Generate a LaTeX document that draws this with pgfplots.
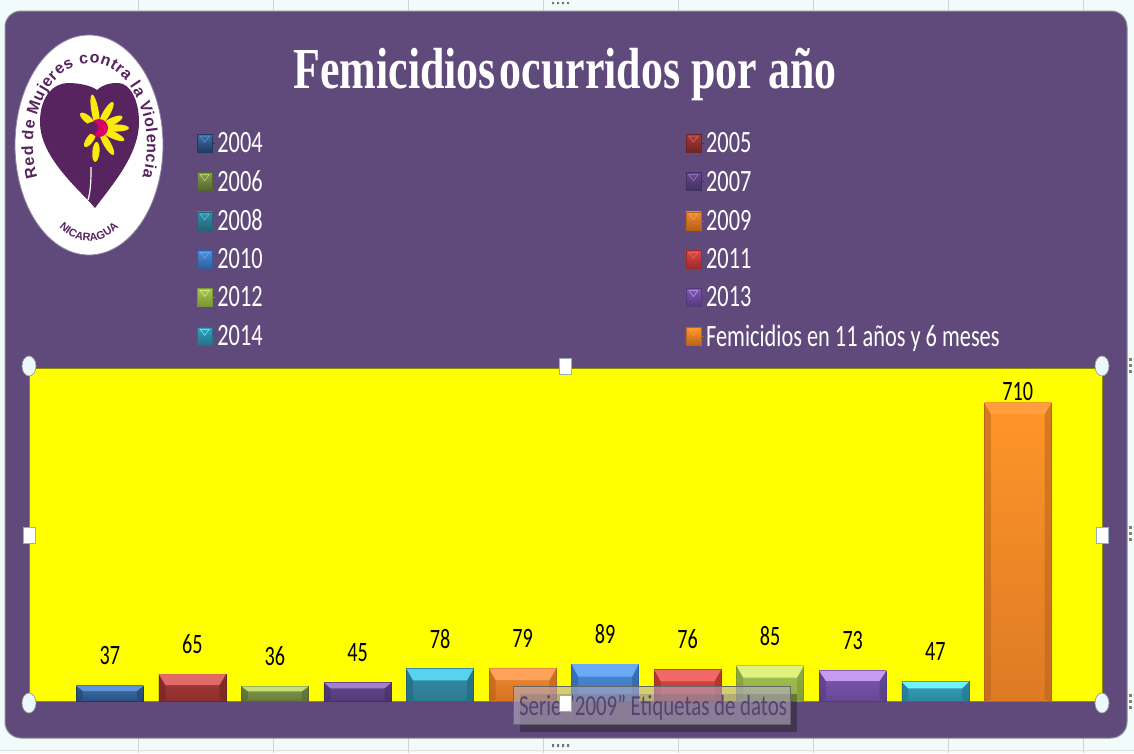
\documentclass[border=0pt]{standalone}
\usepackage{fontspec}
\usepackage{pgfplots}
\pgfplotsset{compat=1.18}
\usetikzlibrary{decorations.text,shadows}
\setmainfont[FakeStretch=0.72]{Carlito}
\newfontfamily\titlefont[FakeStretch=0.757]{Liberation Serif}
\newfontfamily\logofont{Liberation Sans}
\definecolor{plum}{HTML}{604A7B}
\definecolor{heart}{HTML}{57245F}
\definecolor{pagebg}{HTML}{F2FBFB}
\definecolor{yel}{RGB}{255,255,0}
\definecolor{flow}{RGB}{250,235,10}
\definecolor{mag}{RGB}{215,0,100}
\newcommand\dc[1]{\definecolor{#1}{HTML}{#1}}
\dc{3F6FA8}\dc{28507F}\dc{1F3A5F}\dc{A83A38}\dc{8C2F2D}\dc{6E2423}\dc{839B4E}\dc{667A38}\dc{55662D}
\dc{64478F}\dc{513A75}\dc{423060}\dc{348FA8}\dc{2B7A91}\dc{236578}\dc{EE8A38}\dc{D5711F}\dc{B85F18}
\dc{4A8CDC}\dc{3B74BC}\dc{2E5F9C}\dc{D84A48}\dc{C03533}\dc{9E2A28}\dc{A5C653}\dc{8EAB42}\dc{7A9436}
\dc{7D58B2}\dc{664895}\dc{533A7C}\dc{34A0BC}\dc{2B889F}\dc{237186}\dc{FF9628}\dc{DD7A25}\dc{B8641C}
\dc{5F94DC}\dc{24426A}\dc{E06A68}\dc{C5DE7A}\dc{A47FD0}\dc{55D3EF}\dc{FFA35A}\dc{6AAAF5}\dc{F06868}
\dc{DFF27F}\dc{C79CF0}\dc{70F5FF}\dc{FF9F40}
\newcommand\bev[5]{%
 \pgfmathsetmacro\xa{#1-0.406}\pgfmathsetmacro\xb{#1+0.406}%
 \pgfmathsetmacro\xc{#1-0.326}\pgfmathsetmacro\xd{#1+0.326}%
 \pgfmathsetmacro\yb{#2-#3}%
 \addplot[fill=#5,draw=none,forget plot,opacity=.55] coordinates {(\xa,#2)(\xc,\yb)(\xc,5)(\xa,0)} --cycle;
 \addplot[fill=#5,draw=none,forget plot,opacity=.55] coordinates {(\xb,#2)(\xd,\yb)(\xd,5)(\xb,0)} --cycle;
 \addplot[fill=#4,draw=none,forget plot] coordinates {(\xa,#2)(\xb,#2)(\xd,\yb)(\xc,\yb)} --cycle;
}
\newcommand\legbox[3]{%
 \path (0pt,0pt) -- (18pt,0pt);
 \shade[top color=#2,bottom color=#3] (0pt,-9pt) rectangle (15pt,9pt);
 \fill[#1] (3pt,7pt) -- (12pt,7pt) -- (7.5pt,1pt) -- cycle;
}
\pgfplotsset{
 bs/.style n args={4}{ybar,bar shift=0pt,bar width=67pt,draw=#3,line width=.5pt,
   shade,top color=#1,bottom color=#2,
   legend image code/.code={\legbox{#4}{#1}{#3}},
   nodes near coords,point meta=y,
   nodes near coords style={anchor=center,yshift=30pt,text=black,font=\fontsize{28}{30}\selectfont,
     /pgf/number format/assume math mode=true}},
}
\begin{document}
\begin{tikzpicture}[x=1pt,y=-1pt]
\useasboundingbox (0,0) rectangle (1134,753);
\clip (0,0) rectangle (1134,753);
\fill[pagebg] (0,0) rectangle (1134,753);
\foreach \gx in {138,273,408,543,678,813,948,1083}{
  \draw[black!18,line width=.6pt] (\gx,0) -- (\gx,10);
  \draw[black!18,line width=.6pt] (\gx,738) -- (\gx,753);}
\draw[black!12,line width=.6pt] (0,750) -- (1134,750);
\fill[black!55] (552,2) rectangle (554,4) (557,2) rectangle (559,4) (562,2) rectangle (564,4) (567,2) rectangle (569,4);
\fill[black!55] (552,744) rectangle (554,747) (557,744) rectangle (559,747) (562,744) rectangle (564,747) (567,744) rectangle (569,747);
\foreach \hy in {358,364,370,526,532,538,694,700,706}{\fill[black!50] (1129,\hy) rectangle (1132,\hy+3);}
\filldraw[fill=plum,draw=black!45,line width=1pt,rounded corners=16pt] (5,11) rectangle (1127,738);
% logo
\fill[white] (89,145) ellipse [x radius=74pt,y radius=110pt];
\draw[plum!70!white,line width=.8pt] (89,145) ellipse [x radius=74pt,y radius=110pt];
\path[decorate,decoration={text along path,text align={fit to path},
  text={|\logofont\bfseries\fontsize{16}{16}\selectfont\color{heart}|Red de Mujeres contra la Violencia}}]
  (90,145) ++(203:57pt and 82pt) arc [start angle=203,end angle=-23,x radius=57pt,y radius=82pt];
\path[decorate,decoration={text along path,text align=center,
  text={|\logofont\bfseries\fontsize{11}{11}\selectfont\color{heart}|NICARAGUA}}]
  (89,145) ++(222:58pt and 96pt) arc [start angle=222,end angle=318,x radius=58pt,y radius=96pt];
\fill[heart] (95,208) .. controls (80,190) and (40,158) .. (40,122)
  .. controls (40,96) and (54,83) .. (68,83) .. controls (80,83) and (92,86) .. (97,90)
  .. controls (104,84) and (110,83) .. (118,83) .. controls (130,83) and (139,100) .. (139,122)
  .. controls (139,155) and (112,185) .. (95,208) -- cycle;
\draw[white,line width=1.2pt] (88,200) .. controls (91,190) and (91,178) .. (91,167);
\foreach \ang/\d/\len in {100/17/34,60/17/26,25/16/22,0/18/26,-25/16/26,-60/18/26,-95/24/20,-125/14/18,140/14/18}{
  \fill[flow,rotate around={\ang:(98,128)}] (98+\d,128) ellipse [x radius=\len/2*1pt,y radius=3.6pt];}
\fill[mag] (99,128) circle [radius=9pt];
\fill[heart] (92,128) circle [radius=6pt];
% plot
\begin{axis}[
  at={(29pt,-701.5pt)},anchor=south west,scale only axis,width=1073pt,height=333.5pt,
  xmin=-0.98,xmax=12.02,ymin=0,ymax=793,xtick=\empty,ytick=\empty,
  axis background/.style={fill=yel},
  axis line style={draw=black!45!yel,line width=1pt},
  legend columns=2,
  legend style={at={(0.1565,1.7125)},anchor=north west,draw=none,fill=none,
    text=white,font=\fontsize{31}{32}\selectfont,row sep=12.5pt,
    /tikz/every even column/.append style={column sep=421pt},
    inner sep=0pt,outer sep=0pt},
  legend cell align=left,
]
\addplot[bs={3F6FA8}{28507F}{1F3A5F}{5F94DC}] coordinates {(0,37)}; \addlegendentry{2004}
\addplot[bs={A83A38}{8C2F2D}{6E2423}{E06A68}] coordinates {(1,65)}; \addlegendentry{2005}
\addplot[bs={839B4E}{667A38}{55662D}{C5DE7A}] coordinates {(2,36)}; \addlegendentry{2006}
\addplot[bs={64478F}{513A75}{423060}{A47FD0}] coordinates {(3,45)}; \addlegendentry{2007}
\addplot[bs={348FA8}{2B7A91}{236578}{55D3EF}] coordinates {(4,78)}; \addlegendentry{2008}
\addplot[bs={EE8A38}{D5711F}{B85F18}{FFA35A}] coordinates {(5,79)}; \addlegendentry{2009}
\addplot[bs={4A8CDC}{3B74BC}{2E5F9C}{6AAAF5}] coordinates {(6,89)}; \addlegendentry{2010}
\addplot[bs={D84A48}{C03533}{9E2A28}{F06868}] coordinates {(7,76)}; \addlegendentry{2011}
\addplot[bs={A5C653}{8EAB42}{7A9436}{DFF27F}] coordinates {(8,85)}; \addlegendentry{2012}
\addplot[bs={7D58B2}{664895}{533A7C}{C79CF0}] coordinates {(9,73)}; \addlegendentry{2013}
\addplot[bs={34A0BC}{2B889F}{237186}{70F5FF}] coordinates {(10,47)}; \addlegendentry{2014}
\addplot[bs={FF9628}{DD7A25}{B8641C}{FF9F40},nodes near coords style={yshift=-19pt}] coordinates {(11,710)}; \addlegendentry{Femicidios en 11 años y 6 meses}
\bev{0}{37}{12}{5F94DC}{24426A}
\bev{1}{65}{26}{E06A68}{6E2423}
\bev{2}{36}{12}{C5DE7A}{55662D}
\bev{3}{45}{14}{A47FD0}{423060}
\bev{4}{78}{28}{55D3EF}{236578}
\bev{5}{79}{28}{FFA35A}{B85F18}
\bev{6}{89}{30}{6AAAF5}{2E5F9C}
\bev{7}{76}{28}{F06868}{9E2A28}
\bev{8}{85}{28}{DFF27F}{7A9436}
\bev{9}{73}{24}{C79CF0}{533A7C}
\bev{10}{47}{16}{70F5FF}{237186}
\bev{11}{710}{26}{FF9F40}{B8641C}
\end{axis}
% title
\node[text=white,font=\titlefont\bfseries\fontsize{58}{60}\selectfont,anchor=center] at (565,74) {Femicidios\hspace{-7pt} ocurridos por año};
% tooltip
\fill[black,opacity=.3] (520,694) rectangle (797,732);
\fill[plum!45!white,opacity=.6] (513,686) rectangle (790,724);
\draw[black!60,line width=.8pt] (513,686) rectangle (790,724);
\node[text=plum!90!black,font=\fontsize{29}{30}\selectfont,anchor=center] at (653,708) {Serie "2009" Etiquetas de datos};
% handles
\foreach \hx/\hy in {29/366,1102/366,29/703,1102/703}{
  \filldraw[fill=cyan!8!white,draw=black!40,line width=.7pt] (\hx,\hy) ellipse [x radius=7pt,y radius=10pt];}
\foreach \hx/\hy in {565/366,29/535,1102/535,565/703}{
  \filldraw[fill=white,draw=cyan!40!black!50,line width=.8pt] (\hx-6,\hy-8) rectangle (\hx+6,\hy+8);}
\end{tikzpicture}
\end{document}
